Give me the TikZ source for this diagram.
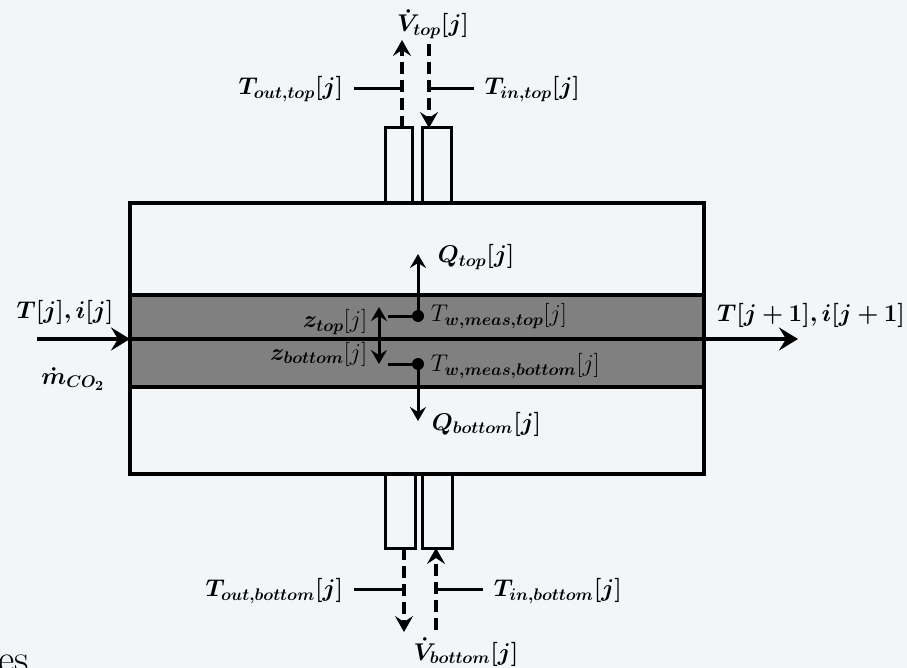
\documentclass[tikz,border=0pt]{standalone}
\usepackage{bm}
\usetikzlibrary{arrows.meta}
\definecolor{bgc}{HTML}{F3F6F9}
\definecolor{bandc}{HTML}{808080}
\begin{document}
\begin{tikzpicture}[x=1pt,y=-1pt,line width=3.5pt,
  bigtip/.style={-{Stealth[length=19pt,width=23pt,inset=7pt]}},
  tip/.style={-{Stealth[length=16pt,width=18pt,inset=6pt]}},
  qtip/.style={-{Stealth[length=14pt,width=16pt,inset=5pt]}},
  dashline/.style={line width=4pt,dash pattern=on 12pt off 6pt},
  lbl/.style={font=\LARGE,scale=1.4,inner sep=1pt},
  tube/.style={draw,line width=3pt,minimum width=27pt,minimum height=75pt,inner sep=0pt},
  dot/.style={circle,fill=black,inner sep=0pt,minimum size=12pt}]
\fill[bgc] (0,0) rectangle (907,668);
\useasboundingbox (0,0) rectangle (907,668);
% band and box
\fill[bandc] (130,295) rectangle (704,387);
\draw (130,295) -- (704,295);
\draw (130,387) -- (704,387);
\draw (130,203) rectangle (704,474);
\coordinate (inL) at (130,339);
\coordinate (inR) at (704,339);
\draw (inL) -- (inR);
% tubes
\node[tube,minimum width=27pt] (tTL) at (398.5,165.5) {};
\node[tube,minimum width=29pt] (tTR) at (436.5,165.5) {};
\node[tube,minimum width=30pt] (tBL) at (400,510.5) {};
\node[tube,minimum width=30pt] (tBR) at (437,510.5) {};
% top flows
\coordinate (vtl0) at (402,128);
\coordinate (vtl1) at (402,40);
\coordinate (vtr0) at (429,44);
\coordinate (vtr1) at (429,128);
\draw[dashline,tip] (vtl0) -- (vtl1);
\draw[dashline,tip] (vtr0) -- (vtr1);
\node[lbl,anchor=east] (toutT) at (347,89) {$\bm{T_{out,top}[j]}$};
\node[lbl,anchor=west] (tinT) at (481,89) {$\bm{T_{in,top}[j]}$};
\coordinate (htl) at (402,89);
\coordinate (htr) at (429,89);
\draw[line width=3pt] ([xshift=7pt]toutT.east|-htl) -- (htl);
\draw[line width=3pt] (htr) -- ([xshift=-7pt]tinT.west|-htr);
\node[lbl] (vtop) at (433,24) {$\bm{\dot V_{top}[j]}$};
% bottom flows
\coordinate (vbl0) at (404,548);
\coordinate (vbl1) at (404,632);
\coordinate (vbr0) at (436,630);
\coordinate (vbr1) at (436,548);
\draw[dashline,tip] (vbl0) -- (vbl1);
\draw[dashline,tip] (vbr0) -- (vbr1);
\node[lbl,anchor=east] (toutB) at (347,591) {$\bm{T_{out,bottom}[j]}$};
\node[lbl,anchor=west] (tinB) at (490,591) {$\bm{T_{in,bottom}[j]}$};
\coordinate (hbl) at (404,589);
\coordinate (hbr) at (436,589);
\draw[line width=3pt] ([xshift=7pt]toutB.east|-hbl) -- (hbl);
\draw[line width=3pt] (hbr) -- ([xshift=-7pt]tinB.west|-hbr);
\node[lbl] (vbot) at (466,652) {$\bm{\dot V_{bottom}[j]}$};
% measurement points
\node[dot] (dt) at (418,316) {};
\node[dot] (db) at (418,364) {};
\coordinate (qt) at (418,254);
\coordinate (qb) at (418,421);
\draw[line width=3pt,qtip] (dt.center) -- (qt);
\draw[line width=3pt,qtip] (db.center) -- (qb);
\coordinate (mlt) at (388,316);
\coordinate (mlb) at (388,364);
\draw[line width=3pt] (mlt) -- (dt.center);
\draw[line width=3pt] (mlb) -- (db.center);
\coordinate (zt) at (379,307);
\coordinate (zb) at (379,364);
\draw[line width=3pt,{Stealth[length=14pt,width=16pt,inset=5pt]}-{Stealth[length=14pt,width=16pt,inset=5pt]}] (zt) -- (zb);
\node[lbl,anchor=west] (qtopl) at (434,257) {$\bm{Q_{top}[j]}$};
\node[lbl,anchor=west] (qbotl) at (428,424) {$\bm{Q_{bottom}[j]}$};
\node[lbl,anchor=west] (twt) at (427,316) {$T_{\bm{w,meas,top}}[j]$};
\node[lbl,anchor=west] (twb) at (427,366) {$T_{\bm{w,meas,bottom}}[j]$};
\node[lbl,anchor=east] (zl1) at (371,322) {$\bm{z_{top}}[j]$};
\node[lbl,anchor=east] (zl2) at (371,354) {$\bm{z_{bottom}}[j]$};
% inlet / outlet
\coordinate (inS) at (37,339);
\coordinate (outE) at (798,339);
\draw[bigtip] (inS) -- (inL);
\draw[bigtip] (inR) -- (outE);
\node[lbl] (tin) at (65,312) {$\bm{T[j],i[j]}$};
\node[lbl] (mdot) at (73,379) {$\bm{\dot m_{CO_2}}$};
\node[lbl] (tout) at (811,315) {$\bm{T[j+1],i[j+1]}$};
\node[anchor=base west,font=\Huge,scale=1.6,inner sep=0pt] (es) at (-4,672) {es};
\end{tikzpicture}
\end{document}
